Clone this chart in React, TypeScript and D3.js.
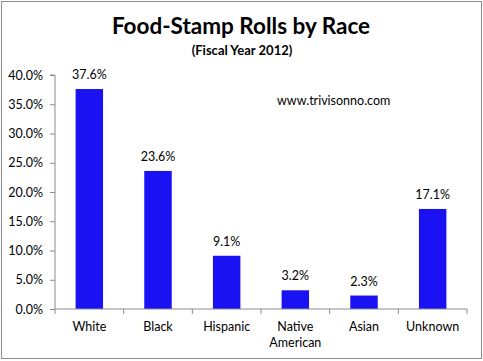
import React, { useEffect, useRef } from 'react';
import * as d3 from 'd3';

const races = ['White', 'Black', 'Hispanic', 'Native American', 'Asian', 'Unknown'];
const shares = [37.6, 23.6, 9.1, 3.2, 2.3, 17.1];
const yTicks = [0, 5, 10, 15, 20, 25, 30, 35, 40];

const W = 483;
const H = 361;
const margin = { left: 55, right: 16, top: 75, bottom: 52 };
const font = 'Lato, "Open Sans", sans-serif';
const barColor = '#1a12f2';
const axisColor = '#8c8c8c';

const App = () => {
  const ref = useRef<SVGSVGElement>(null);

  useEffect(() => {
    if (!ref.current) return;
    const svg = d3.select(ref.current);
    svg.selectAll('*').remove();

    // frame
    svg.append('rect')
      .attr('x', 1.5).attr('y', 1.5)
      .attr('width', W - 3).attr('height', H - 4)
      .attr('fill', 'white').attr('stroke', axisColor);

    svg.append('text')
      .attr('x', 241).attr('y', 34)
      .attr('text-anchor', 'middle')
      .style('font-family', font).style('font-weight', 'bold').style('font-size', '22.5px')
      .text('Food-Stamp Rolls by Race');

    svg.append('text')
      .attr('x', 242).attr('y', 55)
      .attr('text-anchor', 'middle')
      .style('font-family', font).style('font-weight', 'bold').style('font-size', '13px')
      .text('(Fiscal Year 2012)');

    svg.append('text')
      .attr('x', 277).attr('y', 105)
      .style('font-family', font).style('font-size', '12.5px')
      .text('www.trivisonno.com');

    const x = d3.scaleBand().domain(races).range([margin.left, W - margin.right]).paddingInner(0.6).paddingOuter(0.3);
    const y = d3.scaleLinear().domain([0, 40]).range([H - margin.bottom, margin.top]);

    const ctr = svg.append('g');

    ctr.selectAll('rect.bar')
      .data(races)
      .join('rect')
      .attr('class', 'bar')
      .attr('x', (d) => x(d)!)
      .attr('width', x.bandwidth())
      .attr('y', (d, i) => y(shares[i]))
      .attr('height', (d, i) => y(0) - y(shares[i]))
      .attr('fill', barColor);

    ctr.selectAll('text.val')
      .data(races)
      .join('text')
      .attr('class', 'val')
      .attr('x', (d) => x(d)! + x.bandwidth() / 2)
      .attr('y', (d, i) => y(shares[i]) - 10)
      .attr('text-anchor', 'middle')
      .style('font-family', font).style('font-size', '12.5px')
      .text((d, i) => shares[i].toFixed(1) + '%');

    // y axis
    const yAxis = d3.axisLeft(y).tickValues(yTicks).tickSize(5).tickPadding(7)
      .tickFormat((d: any) => d.toFixed(1) + '%');
    const yg = ctr.append('g').attr('transform', `translate(${margin.left},0)`).call(yAxis);
    yg.select('.domain').attr('stroke', axisColor).attr('d', `M-5,${y(40)}H0V${y(0)}`);
    yg.selectAll('.tick line').attr('stroke', axisColor);
    yg.selectAll('.tick text').style('font-family', font).style('font-size', '12.5px').attr('fill', '#000');

    // x axis, ticks between categories
    const bandW = (W - margin.right - margin.left) / races.length;
    const xg = ctr.append('g');
    xg.append('line')
      .attr('x1', margin.left).attr('x2', W - margin.right)
      .attr('y1', y(0)).attr('y2', y(0))
      .attr('stroke', axisColor);
    xg.selectAll('line.tk')
      .data(d3.range(races.length + 1))
      .join('line')
      .attr('class', 'tk')
      .attr('x1', (i) => margin.left + i * bandW).attr('x2', (i) => margin.left + i * bandW)
      .attr('y1', y(0)).attr('y2', y(0) + 5)
      .attr('stroke', axisColor);

    xg.selectAll('text.cat')
      .data(races)
      .join('text')
      .attr('class', 'cat')
      .attr('y', y(0) + 22)
      .attr('text-anchor', 'middle')
      .style('font-family', font).style('font-size', '12.5px')
      .each(function (d) {
        const t = d3.select(this);
        d.split(' ').forEach((w, i) => {
          t.append('tspan').attr('x', x(d)! + x.bandwidth() / 2).attr('dy', i === 0 ? 0 : 16).text(w);
        });
      });
  }, []);

  return (
    <svg ref={ref} width={W} height={H} style={{ position: 'absolute', left: 0, top: 0 }} />
  );
};

export default App;
